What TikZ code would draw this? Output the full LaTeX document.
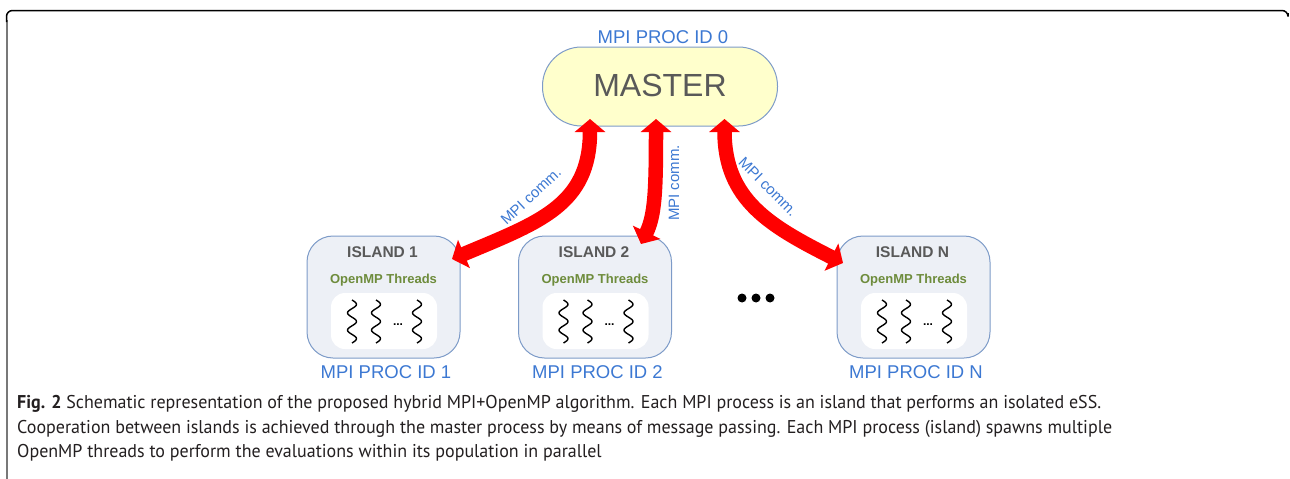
\documentclass[tikz,border=0pt]{standalone}
\usepackage{fontspec}
\setmainfont{Liberation Sans}
\newfontfamily\capfont{PT Sans}
\usetikzlibrary{arrows.meta}
\definecolor{procblue}{RGB}{60,120,210}
\definecolor{masterfill}{RGB}{255,255,204}
\definecolor{boxedge}{RGB}{125,155,200}
\definecolor{islandfill}{RGB}{237,240,246}
\definecolor{darktext}{RGB}{89,89,89}
\definecolor{olivetext}{RGB}{110,140,60}
\definecolor{capgray}{RGB}{35,31,32}
\definecolor{framegray}{RGB}{120,120,120}
\newlength\capw
\tikzset{
  masterbox/.style={draw=boxedge, line width=1pt, fill=masterfill, rounded corners=39pt, minimum width=235pt, minimum height=79pt, inner sep=0pt},
  islandbox/.style={draw=boxedge, line width=1pt, fill=islandfill, rounded corners=26pt, minimum width=153pt, minimum height=122pt, inner sep=0pt},
  threadbox/.style={fill=white, rounded corners=14pt, minimum width=106pt, minimum height=56pt, inner sep=0pt},
  proclabel/.style={text=procblue, font=\fontsize{18.5}{20}\selectfont, anchor=base, inner sep=0pt},
  mastertext/.style={text=darktext, font=\fontsize{32}{34}\selectfont, anchor=base, inner sep=0pt},
  islandtitle/.style={text=darktext, font=\bfseries\fontsize{15.5}{17}\selectfont, anchor=base, inner sep=0pt},
  omptext/.style={text=olivetext, font=\bfseries\fontsize{13}{15}\selectfont, anchor=base, inner sep=0pt},
  commlabel/.style={text=procblue, font=\fontsize{15}{17}\selectfont, inner sep=0pt},
  squig/.style={draw=black, line width=1.4pt},
  commarrow/.style={draw=red, line width=14.5pt, {Triangle[width=30pt,length=13pt]}-{Triangle[width=30pt,length=13pt]}},
  capline/.style={anchor=base west, inner sep=0pt, text=capgray, font=\capfont\fontsize{18.5}{22}\selectfont},
}
\newcommand\islandgroup[3]{%
  \node[islandbox] (isl#2) at (#1,297) {};
  \node[threadbox] (thr#2) at (#1+0.5,321) {};
  \node[islandtitle] (tit#2) at (#1-1,257) {ISLAND #3};
  \node[omptext] (omp#2) at (#1,283) {OpenMP Threads};
  \foreach \dx in {-31.5,-7.5,33.5}{
    \draw[squig] plot[smooth,domain=0:1,samples=41,variable=\t] ({#1+\dx+4.5*sin(\t*900)},{300+43*\t});
  }
  \node[anchor=base, inner sep=0pt, font=\bfseries\fontsize{12}{14}\selectfont] (dots#2) at (#1+14.5,325) {...};
  \node[proclabel] (proc#2) at (#1+2.5,378) {MPI PROC ID #3};
}
\begin{document}
\settowidth{\capw}{\capfont\fontsize{18.5}{22}\selectfont Cooperation between islands is achieved through the master process by means of message passing. Each MPI process (island) spawns multiple}%
\pgfmathsetmacro\capsx{1095/\capw}%
\begin{tikzpicture}[x=1pt,y=-1pt]
\useasboundingbox (0,0) rectangle (1290,479);
% frame
\draw[framegray, line width=2pt] (6.5,479) -- (6.5,20);
\draw[black, line width=1.5pt, rounded corners=6pt] (6.5,22) -- (6.5,10.5) -- (1288,10.5) -- (1288,13);
% master
\node[masterbox] (master) at (660,86.5) {};
\node[mastertext] (mastertxt) at (660,96) {MASTER};
\node[proclabel] (proc0) at (663,43) {MPI PROC ID 0};
% islands
\islandgroup{383.5}{1}{1}
\islandgroup{595}{2}{2}
\islandgroup{913.5}{N}{N}
% ellipsis dots
\fill (742,298) circle[radius=4.5pt];
\fill (756,298) circle[radius=4.5pt];
\fill (770,298) circle[radius=4.5pt];
% arrow ends
\coordinate (m1) at (590,119);
\coordinate (m2) at (656,119);
\coordinate (m3) at (724.5,119);
\coordinate (i1) at (452,259);
\coordinate (i2) at (641,244);
\coordinate (i3) at (843,263);
\draw[commarrow] (m1) .. controls (590,205) and (540,222) .. (i1);
\draw[commarrow] (m2) .. controls (656,190) and (655,215) .. (i2);
\draw[commarrow] (m3) .. controls (724.5,200) and (770,226) .. (i3);
\node[commlabel, rotate=43] (c1) at (531,196) {MPI comm.};
\node[commlabel, rotate=90] (c2) at (674,183) {MPI comm.};
\node[commlabel, rotate=-45] (c3) at (768,187) {MPI comm.};
% caption
\node[capline] (cap1) at (17,408) {\scalebox{\capsx}[1]{\textbf{Fig. 2} Schematic representation of the proposed hybrid MPI+OpenMP algorithm. Each MPI process is an island that performs an isolated eSS.}};
\node[capline] (cap2) at (17,433) {\scalebox{\capsx}[1]{Cooperation between islands is achieved through the master process by means of message passing. Each MPI process (island) spawns multiple}};
\node[capline] (cap3) at (17,457) {\scalebox{\capsx}[1]{OpenMP threads to perform the evaluations within its population in parallel}};
\end{tikzpicture}
\end{document}
